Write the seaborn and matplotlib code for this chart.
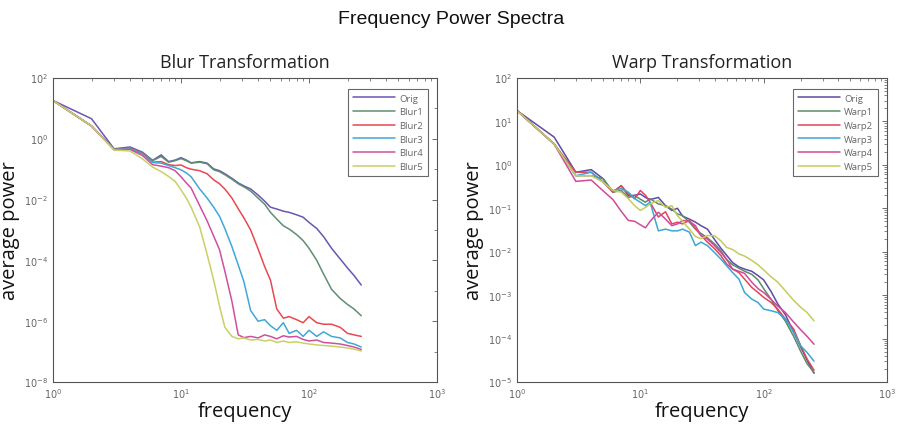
import numpy as np
import pandas as pd
import matplotlib
matplotlib.use("Agg")
import matplotlib.pyplot as plt
import matplotlib.ticker as mticker
import seaborn as sns

# ---------------- data (log10 of average power) ----------------
freq = [1, 2, 3, 4, 5, 6, 7, 8, 9, 10, 11, 12, 14, 16, 18, 20, 22, 25, 28, 31, 35, 40,
        45, 50, 56, 63, 70, 80, 90, 100, 115, 130, 150, 175, 200, 225, 256]

blur_labels = ["Orig", "Blur1", "Blur2", "Blur3", "Blur4", "Blur5"]
blur_orig = [1.26, 0.66, -0.33, -0.27, -0.44, -0.71, -0.53, -0.75, -0.70, -0.62, -0.70, -0.79,
             -0.75, -0.80, -0.99, -1.05, -1.15, -1.30, -1.45, -1.55, -1.65, -1.85, -2.05, -2.25,
             -2.31, -2.38, -2.42, -2.50, -2.58, -2.75, -2.95, -3.22, -3.60, -3.95, -4.25, -4.50, -4.81]
blur1 = [1.26, 0.42, -0.35, -0.30, -0.46, -0.72, -0.58, -0.77, -0.72, -0.65, -0.72, -0.80,
         -0.77, -0.82, -1.02, -1.08, -1.18, -1.33, -1.48, -1.58, -1.72, -1.95, -2.15, -2.42,
         -2.64, -2.86, -2.97, -3.15, -3.35, -3.60, -4.00, -4.45, -4.95, -5.25, -5.45, -5.60, -5.82]
blur2 = [1.26, 0.42, -0.35, -0.32, -0.48, -0.77, -0.75, -0.85, -0.88, -0.86, -0.95, -1.00,
         -1.05, -1.15, -1.35, -1.48, -1.65, -1.95, -2.30, -2.60, -3.00, -3.62, -4.20, -4.65,
         -5.60, -5.90, -5.85, -5.95, -6.05, -5.85, -6.05, -6.10, -6.10, -6.20, -6.40, -6.45, -6.50]
blur3 = [1.26, 0.42, -0.35, -0.33, -0.50, -0.78, -0.80, -0.88, -0.95, -1.02, -1.12, -1.25,
         -1.65, -1.95, -2.25, -2.55, -2.95, -3.55, -4.15, -4.70, -5.65, -6.00, -5.95, -6.15,
         -6.30, -6.05, -6.40, -6.30, -6.50, -6.30, -6.50, -6.35, -6.50, -6.55, -6.70, -6.75, -6.85]
blur4 = [1.26, 0.42, -0.36, -0.35, -0.55, -0.85, -0.90, -0.95, -1.05, -1.25, -1.45, -1.62,
         -2.20, -2.70, -3.20, -3.65, -4.35, -5.35, -6.45, -6.54, -6.50, -6.55, -6.45, -6.50,
         -6.58, -6.48, -6.52, -6.50, -6.60, -6.65, -6.62, -6.70, -6.72, -6.75, -6.80, -6.85, -6.93]
blur5 = [1.26, 0.42, -0.37, -0.40, -0.66, -0.93, -1.08, -1.24, -1.40, -1.68, -1.95, -2.25,
         -2.90, -3.80, -4.65, -5.50, -6.20, -6.50, -6.58, -6.55, -6.62, -6.60, -6.65, -6.62,
         -6.70, -6.65, -6.70, -6.68, -6.72, -6.75, -6.78, -6.80, -6.82, -6.85, -6.88, -6.92, -6.98]

warp_labels = ["Orig", "Warp1", "Warp2", "Warp3", "Warp4", "Warp5"]
warp_orig = [1.25, 0.64, -0.17, -0.11, -0.32, -0.63, -0.48, -0.71, -0.70, -0.67, -0.75, -0.80,
             -0.75, -0.94, -1.05, -1.00, -1.18, -1.25, -1.32, -1.40, -1.48, -1.72, -1.92, -2.08,
             -2.25, -2.35, -2.40, -2.45, -2.55, -2.65, -2.92, -3.20, -3.45, -3.85, -4.20, -4.50, -4.80]
warp1 = [1.25, 0.48, -0.25, -0.25, -0.32, -0.63, -0.59, -0.75, -0.71, -0.79, -0.86, -0.78,
         -0.90, -0.94, -1.02, -1.13, -1.17, -1.32, -1.48, -1.58, -1.68, -1.82, -1.98, -2.18,
         -2.30, -2.38, -2.45, -2.52, -2.65, -2.85, -3.10, -3.35, -3.60, -3.95, -4.30, -4.58, -4.78]
warp2 = [1.25, 0.48, -0.17, -0.17, -0.40, -0.63, -0.48, -0.67, -0.78, -0.59, -0.70, -0.86,
         -1.20, -1.08, -1.36, -1.32, -1.36, -1.28, -1.47, -1.62, -1.78, -1.93, -2.09, -2.28,
         -2.40, -2.48, -2.63, -2.82, -2.94, -3.05, -3.17, -3.32, -3.55, -3.78, -4.17, -4.47, -4.73]
warp3 = [1.25, 0.48, -0.25, -0.17, -0.40, -0.59, -0.55, -0.63, -0.78, -0.86, -0.94, -0.86,
         -1.52, -1.48, -1.52, -1.52, -1.48, -1.55, -1.86, -1.78, -1.86, -2.02, -2.17, -2.32,
         -2.48, -2.63, -2.94, -3.09, -3.17, -3.32, -3.36, -3.40, -3.55, -3.86, -4.17, -4.32, -4.52]
warp4 = [1.25, 0.48, -0.38, -0.35, -0.60, -0.80, -1.07, -1.28, -1.30, -1.38, -1.45, -1.30,
         -1.09, -1.25, -1.40, -1.36, -1.28, -1.30, -1.40, -1.63, -1.71, -1.86, -2.02, -2.17,
         -2.40, -2.45, -2.50, -2.70, -2.85, -2.94, -3.10, -3.25, -3.40, -3.62, -3.80, -3.95, -4.13]
warp5 = [1.25, 0.48, -0.25, -0.25, -0.40, -0.59, -0.63, -0.78, -0.94, -1.05, -0.98, -0.90,
         -0.82, -0.98, -0.94, -1.17, -1.30, -1.48, -1.65, -1.70, -1.63, -1.63, -1.75, -1.90,
         -1.95, -2.05, -2.10, -2.20, -2.30, -2.42, -2.58, -2.70, -2.90, -3.12, -3.28, -3.40, -3.59]

blur_series = [blur_orig, blur1, blur2, blur3, blur4, blur5]
warp_series = [warp_orig, warp1, warp2, warp3, warp4, warp5]

blur_colors = ["#6a55b4", "#5f8f70", "#e8484f", "#3fa8d8", "#cf4f9f", "#c9d064"]
warp_colors = ["#5c4ca2", "#5e8a6a", "#e0455a", "#3ba7d6", "#d04a9a", "#c5cc5a"]


def long_frame(labels, series):
    rows = []
    for lab, vals in zip(labels, series):
        for f, v in zip(freq, vals):
            rows.append({"frequency": f, "power": 10.0 ** v, "series": lab})
    return pd.DataFrame(rows)


sns.set_style("white")
plt.rcParams["font.family"] = ["Open Sans", "DejaVu Sans"]

fig = plt.figure(figsize=(9.02, 4.27), dpi=100)
axL = fig.add_axes([53 / 902, 1 - 383 / 427, 384 / 902, 304 / 427])
axR = fig.add_axes([517 / 902, 1 - 383 / 427, 370 / 902, 304 / 427])

fig.text(0.5, 1 - 20 / 427, "Frequency Power Spectra", ha="center", va="center",
         fontsize=14, family=["Liberation Sans", "DejaVu Sans"], color="#111111")


def style_axes(ax, df, labels, colors, ylim, ymajor_step, title):
    pal = dict(zip(labels, colors))
    sns.lineplot(data=df, x="frequency", y="power", hue="series", hue_order=labels,
                 palette=pal, estimator=None, sort=False, linewidth=1.1, ax=ax)
    ax.set_xscale("log")
    ax.set_yscale("log")
    ax.set_xlim(1, 1000)
    ax.set_ylim(*ylim)
    lo, hi = int(np.log10(ylim[0])), int(np.log10(ylim[1]))
    ax.yaxis.set_major_locator(mticker.FixedLocator([10.0 ** k for k in range(lo, hi + 1, ymajor_step)]))
    if ymajor_step > 1:
        ax.yaxis.set_minor_locator(mticker.FixedLocator([10.0 ** k for k in range(lo, hi + 1)]))
    else:
        ax.yaxis.set_minor_locator(mticker.LogLocator(base=10, subs=np.arange(2, 10), numticks=20))
    ax.xaxis.set_major_locator(mticker.FixedLocator([1, 10, 100, 1000]))
    ax.xaxis.set_minor_locator(mticker.LogLocator(base=10, subs=np.arange(2, 10), numticks=20))
    fmt = mticker.FuncFormatter(lambda v, p: r"$10^{%d}$" % int(round(np.log10(v))))
    ax.xaxis.set_major_formatter(fmt)
    ax.yaxis.set_major_formatter(fmt)
    ax.yaxis.set_minor_formatter(mticker.NullFormatter())
    ax.xaxis.set_minor_formatter(mticker.NullFormatter())
    ax.tick_params(which="both", direction="in", top=True, right=True, colors="#555555",
                   labelsize=7, labelcolor="#666666")
    ax.tick_params(which="major", length=3.5, width=0.6)
    ax.tick_params(which="minor", length=2, width=0.5)
    for s in ax.spines.values():
        s.set_color("#555555")
        s.set_linewidth(0.8)
    ax.set_xlabel("frequency", fontsize=14.5, color="#111111", labelpad=0)
    ax.set_ylabel("average power", fontsize=14.5, color="#111111", labelpad=3)
    ax.set_title(title, fontsize=13, color="#222222", pad=8)
    handles, labs = ax.get_legend_handles_labels()
    leg = ax.legend(handles, labs, loc="upper right", fontsize=6.8, handlelength=4.5,
                    frameon=True, fancybox=False, borderpad=0.5, labelspacing=0.5,
                    bbox_to_anchor=(0.988, 0.98), handletextpad=0.4)
    leg.get_frame().set_edgecolor("#444444")
    leg.get_frame().set_linewidth(0.8)
    for t in leg.get_texts():
        t.set_color("#666666")


style_axes(axL, long_frame(blur_labels, blur_series), blur_labels, blur_colors,
           (1e-8, 1e2), 2, "Blur Transformation")
style_axes(axR, long_frame(warp_labels, warp_series), warp_labels, warp_colors,
           (1e-5, 1e2), 1, "Warp Transformation")

fig.savefig("out.png", dpi=100)
